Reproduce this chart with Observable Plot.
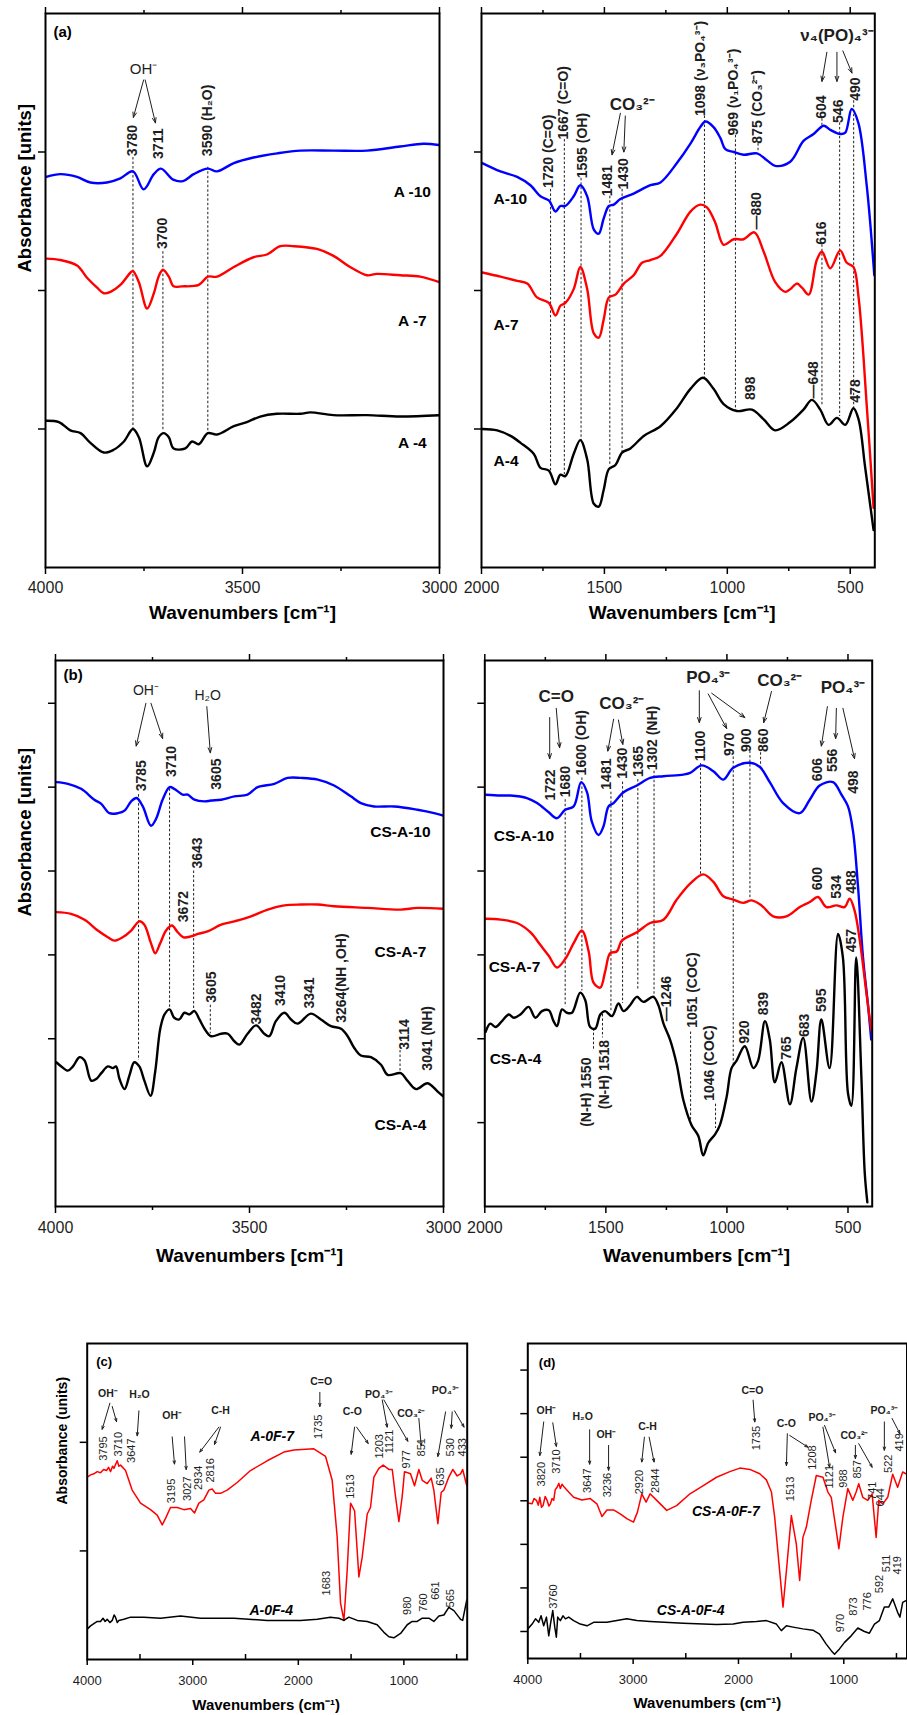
<!DOCTYPE html>
<html><head><meta charset="utf-8">
<script src="https://cdn.jsdelivr.net/npm/d3@7"></script>
<script src="https://cdn.jsdelivr.net/npm/@observablehq/plot@0.6"></script>
<style>
html,body{margin:0;padding:0;background:#fff}
#root{position:relative;width:907px;height:1715px;overflow:hidden;background:#fff}
.p{position:absolute}
.p svg{display:block}
</style></head><body>
<div id="root"></div>
<script>
// ---------- Panel (a) : A-10, A-7, A-4 ----------
const A10_L = [[3998,2.82],[3962,2.84],[3920,2.82],[3886,2.78],[3844,2.78],[3810,2.81],[3778,2.86],[3751,2.73],[3725,2.84],[3707,2.88],[3676,2.80],[3651,2.79],[3624,2.84],[3588,2.88],[3565,2.86],[3522,2.92],[3472,2.96],[3412,2.99],[3353,3.01],[3269,3.01],[3184,3.01],[3100,3.04],[3041,3.06],[3000,3.05]];
const A7_L = [[3998,2.23],[3962,2.22],[3920,2.18],[3894,2.09],[3869,2.02],[3852,1.98],[3835,1.99],[3810,2.04],[3784,2.13],[3778,2.14],[3763,2.06],[3742,1.87],[3725,1.98],[3713,2.10],[3702,2.15],[3687,2.10],[3675,2.03],[3653,2.03],[3611,2.04],[3588,2.10],[3565,2.10],[3522,2.17],[3472,2.24],[3438,2.26],[3404,2.32],[3370,2.32],[3311,2.30],[3269,2.25],[3227,2.17],[3184,2.11],[3159,2.12],[3100,2.11],[3049,2.10],[3000,2.06]];
const A4_L = [[3998,1.06],[3966,1.05],[3937,0.99],[3911,0.97],[3886,0.90],[3852,0.83],[3827,0.85],[3801,0.91],[3778,1.00],[3763,0.94],[3742,0.73],[3725,0.83],[3713,0.94],[3700,0.97],[3687,0.94],[3675,0.86],[3645,0.86],[3628,0.91],[3611,0.89],[3588,0.97],[3565,0.96],[3522,1.02],[3489,1.05],[3455,1.09],[3413,1.11],[3353,1.11],[3328,1.12],[3269,1.10],[3184,1.10],[3100,1.09],[3000,1.10]];
const A10_R = [[1997,2.92],[1923,2.86],[1855,2.82],[1801,2.76],[1760,2.68],[1726,2.65],[1699,2.57],[1679,2.61],[1659,2.61],[1625,2.68],[1598,2.76],[1570,2.68],[1543,2.44],[1523,2.41],[1503,2.52],[1482,2.61],[1462,2.62],[1435,2.66],[1381,2.70],[1313,2.76],[1272,2.78],[1205,2.92],[1150,3.06],[1110,3.18],[1089,3.22],[1056,3.18],[1028,3.10],[1008,3.02],[974,3.00],[934,2.98],[879,2.99],[839,2.94],[805,2.90],[744,2.93],[690,3.08],[649,3.13],[608,3.19],[581,3.16],[541,3.13],[520,3.14],[494,3.31],[467,3.21],[433,2.76],[402,2.11]];
const A7_R = [[1997,2.13],[1923,2.10],[1855,2.07],[1814,2.05],[1774,1.95],[1726,1.91],[1699,1.82],[1679,1.89],[1659,1.91],[1625,2.01],[1598,2.17],[1570,2.01],[1543,1.69],[1523,1.66],[1503,1.79],[1482,1.95],[1455,1.97],[1421,2.05],[1381,2.11],[1347,2.20],[1313,2.22],[1272,2.25],[1205,2.41],[1150,2.57],[1110,2.62],[1083,2.60],[1049,2.49],[1015,2.33],[974,2.37],[934,2.37],[890,2.42],[852,2.28],[805,2.06],[764,1.99],[744,2.01],[717,2.05],[696,2.02],[669,1.97],[636,2.22],[615,2.28],[581,2.16],[541,2.29],[514,2.20],[487,2.17],[466,1.95],[432,1.15],[405,0.43]];
const A4_R = [[1997,1.00],[1936,0.99],[1882,0.95],[1841,0.90],[1787,0.82],[1760,0.72],[1726,0.70],[1699,0.60],[1679,0.67],[1659,0.66],[1625,0.82],[1598,0.92],[1570,0.78],[1543,0.46],[1523,0.44],[1503,0.56],[1482,0.71],[1455,0.74],[1428,0.83],[1394,0.86],[1340,0.95],[1272,1.02],[1205,1.15],[1150,1.29],[1099,1.37],[1056,1.29],[1015,1.18],[961,1.13],[900,1.14],[852,1.07],[805,0.99],[744,1.05],[690,1.14],[656,1.21],[622,1.14],[588,1.03],[554,1.08],[520,1.03],[487,1.15],[466,1.07],[439,0.72],[405,0.27]];

const aL_peaks = [{t:"3780",x:3778,y:2.97},{t:"3711",x:3713,y:2.95},{t:"3590 (H₂O)",x:3588,y:2.97},{t:"3700",x:3702,y:2.30}];
const aL_dash = [{x:3778,y1:2.96,y2:0.99},{x:3702,y1:2.28,y2:0.98},{x:3588,y1:2.89,y2:0.98}];
const aL_arrows = [{x1:3751,y1:3.52,x2:3777,y2:3.25},{x1:3747,y1:3.52,x2:3721,y2:3.21}];
const aL_groups = [{t:"OH⁻",x:3751,y:3.60}];
const aL_names = [{t:"A -10",x:3069,y:2.71},{t:"A -7",x:3069,y:1.78},{t:"A -4",x:3069,y:0.90}];

const aR_peaks = [{t:"1720 (C=O)",x:1727,y:2.74},{t:"1667 (C=O)",x:1665,y:3.09},{t:"1595 (OH)",x:1591,y:2.81},{t:"1481",x:1489,y:2.68},{t:"1430",x:1421,y:2.73},{t:"1098 (ν₃PO₄³⁻)",x:1110,y:3.26},{t:"969 (ν₁PO₄³⁻)",x:974,y:3.12},{t:"875 (CO₃²⁻)",x:879,y:3.06},{t:"604",x:615,y:3.24},{t:"546",x:547,y:3.21},{t:"490",x:480,y:3.37},{t:"—880",x:882,y:2.44},{t:"616",x:615,y:2.33},{t:"898",x:904,y:1.21},{t:"—648",x:649,y:1.22},{t:"478",x:480,y:1.19}];
const aR_dash = [{x:1719,y1:2.73,y2:0.68},{x:1663,y1:3.09,y2:0.67},{x:1595,y1:2.81,y2:0.91},{x:1478,y1:2.68,y2:0.74},{x:1428,y1:2.73,y2:0.83},{x:1093,y1:3.26,y2:1.37},{x:967,y1:3.12,y2:1.13},{x:875,y1:3.06,y2:3.00},{x:543,y1:3.21,y2:1.09},{x:486,y1:3.37,y2:1.15},{x:615,y1:2.33,y2:1.17},{x:615,y1:3.24,y2:3.18}];
const aR_arrows = [{x1:1435,y1:3.28,x2:1469,y2:2.98},{x1:1415,y1:3.26,x2:1421,y2:3.00},{x1:595,y1:3.72,x2:615,y2:3.51},{x1:554,y1:3.72,x2:554,y2:3.51},{x1:530,y1:3.73,x2:493,y2:3.57}];
const aR_groups = [{t:"CO₃²⁻",x:1387,y:3.34},{t:"ν₄(PO)₄³⁻",x:554,y:3.84}];
const aR_names = [{t:"A-10",x:1951,y:2.66},{t:"A-7",x:1951,y:1.75},{t:"A-4",x:1951,y:0.77}];

// ---------- Panel (b) : CS-A-10, CS-A-7, CS-A-4 ----------
const CSA10_L = [[3998,5.06],[3968,5.04],[3934,4.98],[3900,4.85],[3882,4.80],[3861,4.69],[3839,4.69],[3822,4.72],[3805,4.83],[3791,4.87],[3775,4.77],[3754,4.54],[3741,4.62],[3724,4.85],[3706,5.00],[3694,4.98],[3672,4.91],[3659,4.91],[3642,4.85],[3616,4.83],[3599,4.84],[3573,4.85],[3539,4.89],[3505,4.91],[3479,5.00],[3436,5.04],[3402,5.11],[3367,5.11],[3324,5.09],[3282,5.02],[3239,4.89],[3213,4.81],[3179,4.77],[3127,4.77],[3067,4.73],[3024,4.69],[3000,4.66]];
const CSA7_L = [[3998,3.51],[3960,3.49],[3925,3.42],[3891,3.29],[3865,3.21],[3848,3.17],[3827,3.21],[3805,3.29],[3784,3.40],[3771,3.36],[3754,3.14],[3743,3.02],[3730,3.14],[3715,3.29],[3700,3.35],[3685,3.27],[3670,3.21],[3651,3.22],[3633,3.25],[3608,3.28],[3573,3.36],[3539,3.40],[3496,3.46],[3453,3.54],[3410,3.59],[3367,3.60],[3324,3.60],[3282,3.58],[3196,3.56],[3110,3.54],[3067,3.56],[3000,3.55]];
const CSA4_L = [[3998,1.72],[3985,1.67],[3968,1.62],[3955,1.67],[3938,1.78],[3925,1.74],[3908,1.50],[3895,1.52],[3882,1.59],[3865,1.67],[3852,1.65],[3844,1.67],[3835,1.52],[3822,1.40],[3809,1.57],[3797,1.72],[3784,1.67],[3771,1.50],[3755,1.32],[3743,1.61],[3730,2.12],[3719,2.29],[3706,2.35],[3694,2.25],[3681,2.23],[3668,2.31],[3655,2.29],[3642,2.33],[3629,2.23],[3616,2.12],[3599,2.03],[3573,2.06],[3556,2.06],[3539,1.97],[3526,1.93],[3505,2.06],[3483,2.16],[3462,2.06],[3449,2.03],[3432,2.21],[3410,2.31],[3393,2.23],[3376,2.18],[3342,2.30],[3316,2.23],[3290,2.15],[3264,2.12],[3247,2.03],[3230,1.89],[3213,1.80],[3187,1.78],[3161,1.69],[3144,1.57],[3110,1.59],[3093,1.50],[3071,1.40],[3041,1.47],[3015,1.37],[3000,1.31]];
const CSA10_R = [[1997,4.91],[1935,4.90],[1894,4.90],[1826,4.87],[1784,4.81],[1736,4.70],[1702,4.63],[1668,4.73],[1633,4.77],[1602,5.06],[1578,4.94],[1558,4.59],[1530,4.43],[1510,4.53],[1489,4.77],[1468,4.81],[1427,4.94],[1372,5.02],[1317,5.11],[1262,5.13],[1180,5.15],[1152,5.17],[1104,5.26],[1056,5.19],[1015,5.09],[974,5.23],[905,5.29],[864,5.24],[823,5.06],[768,4.81],[699,4.69],[658,4.85],[617,5.02],[562,5.06],[527,4.91],[500,4.77],[479,4.47],[459,3.83],[438,2.97],[418,2.42],[404,1.99]];
const CSA7_R = [[1997,3.43],[1935,3.42],[1867,3.38],[1812,3.27],[1771,3.12],[1736,2.99],[1702,2.85],[1668,2.95],[1633,3.14],[1599,3.29],[1571,3.04],[1551,2.67],[1523,2.61],[1503,2.80],[1482,3.02],[1455,3.04],[1434,3.17],[1372,3.27],[1317,3.38],[1262,3.42],[1207,3.66],[1152,3.85],[1098,3.96],[1056,3.87],[1015,3.70],[974,3.66],[933,3.62],[898,3.65],[857,3.59],[809,3.46],[754,3.46],[699,3.57],[658,3.63],[624,3.69],[589,3.57],[548,3.59],[514,3.57],[493,3.67],[473,3.53],[452,3.19],[424,2.55],[404,2.10]];
const CSA4_R = [[1997,2.08],[1977,2.18],[1956,2.14],[1929,2.21],[1901,2.29],[1880,2.25],[1853,2.29],[1819,2.38],[1791,2.25],[1764,2.33],[1736,2.34],[1716,2.21],[1702,2.15],[1681,2.35],[1661,2.31],[1640,2.31],[1606,2.55],[1585,2.46],[1565,2.14],[1544,2.12],[1523,2.29],[1503,2.33],[1475,2.27],[1448,2.42],[1427,2.33],[1400,2.40],[1372,2.50],[1345,2.44],[1304,2.50],[1283,2.40],[1262,2.18],[1235,1.99],[1207,1.69],[1180,1.27],[1146,0.97],[1118,0.84],[1098,0.61],[1077,0.76],[1049,0.86],[1029,0.97],[1001,1.31],[981,1.65],[960,1.74],[926,1.91],[891,1.65],[871,1.74],[843,2.21],[823,1.99],[802,1.48],[775,1.72],[740,1.22],[713,1.65],[685,2.01],[651,1.25],[630,1.61],[610,2.23],[576,1.65],[541,3.25],[521,2.97],[500,1.35],[486,1.20],[466,2.97],[445,1.57],[431,0.41],[420,0.05]];

const bL_peaks = [{t:"3785",x:3778,y:4.95},{t:"3710",x:3702,y:5.12},{t:"3605",x:3586,y:4.97},{t:"3643",x:3633,y:4.03},{t:"3672",x:3670,y:3.39},{t:"3605",x:3597,y:2.43},{t:"3482",x:3483,y:2.17},{t:"3410",x:3419,y:2.39},{t:"3341",x:3346,y:2.36},{t:"3264(NH ,OH)",x:3264,y:2.19},{t:"3114",x:3101,y:1.87},{t:"3041 (NH)",x:3041,y:1.62}];
const bL_dash = [{x:3786,y1:4.91,y2:1.74},{x:3706,y1:4.98,y2:2.35},{x:3644,y1:4.00,y2:2.33},{x:3601,y1:2.40,y2:2.06},{x:3112,y1:1.86,y2:1.59}];
const bL_arrows = [{x1:3767,y1:6.00,x2:3792,y2:5.49},{x1:3754,y1:6.00,x2:3724,y2:5.58},{x1:3610,y1:5.96,x2:3601,y2:5.41}];
const bL_groups = [{t:"OH⁻",x:3767,y:6.15},{t:"H₂O",x:3608,y:6.09}];
const bL_names = [{t:"CS-A-10",x:3111,y:4.47},{t:"CS-A-7",x:3111,y:3.04},{t:"CS-A-4",x:3111,y:0.97}];

const bR_peaks = [{t:"1722",x:1729,y:4.84},{t:"1680",x:1668,y:4.88},{t:"1600 (OH)",x:1599,y:5.14},{t:"1481",x:1496,y:4.97},{t:"1430",x:1430,y:5.10},{t:"1365",x:1365,y:5.12},{t:"1302 (NH)",x:1306,y:5.20},{t:"1100",x:1109,y:5.31},{t:"970",x:990,y:5.37},{t:"900",x:919,y:5.42},{t:"860",x:850,y:5.42},{t:"606",x:624,y:5.07},{t:"556",x:562,y:5.18},{t:"498",x:477,y:4.92},{t:"600",x:624,y:3.77},{t:"534",x:548,y:3.67},{t:"488",x:486,y:3.73},{t:"—1246",x:1249,y:2.21},{t:"1051 (COC)",x:1142,y:2.13},{t:"1046 (COC)",x:1070,y:1.26},{t:"920",x:926,y:1.94},{t:"839",x:850,y:2.28},{t:"765",x:754,y:1.75},{t:"683",x:679,y:2.02},{t:"595",x:610,y:2.32},{t:"457",x:486,y:3.03},{t:"(N-H) 1550",x:1578,y:0.95},{t:"(N-H) 1518",x:1507,y:1.16}];
const bR_dash = [{x:1668,y1:4.85,y2:2.38},{x:1599,y1:5.11,y2:2.57},{x:1479,y1:4.94,y2:2.33},{x:1431,y1:5.06,y2:2.42},{x:1368,y1:5.09,y2:2.59},{x:1301,y1:5.19,y2:2.50},{x:1109,y1:5.28,y2:3.95},{x:974,y1:5.36,y2:1.67},{x:905,y1:5.43,y2:3.66},{x:861,y1:5.41,y2:5.23},{x:1551,y1:2.12,y2:1.86},{x:1514,y1:2.29,y2:2.01},{x:1150,y1:2.08,y2:1.01},{x:1047,y1:1.22,y2:0.93}];
const bR_arrows = [{x1:1732,y1:5.83,x2:1732,y2:5.34},{x1:1705,y1:5.94,x2:1691,y2:5.47},{x1:1468,y1:5.81,x2:1492,y2:5.43},{x1:1448,y1:5.80,x2:1430,y2:5.51},{x1:1114,y1:6.15,x2:1114,y2:5.77},{x1:1077,y1:6.11,x2:1001,y2:5.70},{x1:1063,y1:6.12,x2:926,y2:5.83},{x1:816,y1:6.14,x2:848,y2:5.77},{x1:585,y1:5.96,x2:610,y2:5.49},{x1:548,y1:5.94,x2:551,y2:5.58},{x1:521,y1:5.94,x2:473,y2:5.34}];
const bR_groups = [{t:"C=O",x:1705,y:6.08},{t:"CO₃²⁻",x:1434,y:6.00},{t:"PO₄³⁻",x:1077,y:6.31},{t:"CO₃²⁻",x:782,y:6.27},{t:"PO₄³⁻",x:521,y:6.19}];
const bR_names = [{t:"CS-A-10",x:1963,y:4.42},{t:"CS-A-7",x:1984,y:2.85},{t:"CS-A-4",x:1980,y:1.76}];

// ---------- Panel (c) : A-0F-7, A-0F-4 ----------
const AOF7 = [[4000,1.68],[3968,1.70],[3937,1.71],[3905,1.73],[3874,1.72],[3845,1.75],[3817,1.74],[3798,1.77],[3779,1.73],[3760,1.78],[3747,1.76],[3716,1.83],[3700,1.78],[3684,1.79],[3637,1.74],[3574,1.56],[3495,1.44],[3400,1.38],[3337,1.33],[3289,1.24],[3258,1.30],[3211,1.40],[3147,1.40],[3084,1.38],[3021,1.39],[2983,1.35],[2942,1.44],[2895,1.47],[2847,1.56],[2816,1.57],[2784,1.53],[2737,1.53],[2674,1.56],[2579,1.63],[2453,1.74],[2295,1.83],[2137,1.91],[2042,1.93],[1853,1.94],[1742,1.87],[1679,1.65],[1632,1.13],[1600,0.52],[1568,0.36],[1537,0.82],[1505,1.44],[1467,1.37],[1426,0.76],[1395,0.94],[1347,1.34],[1316,1.40],[1284,1.68],[1237,1.76],[1196,1.79],[1142,1.75],[1110,1.75],[1079,1.50],[1047,1.27],[1016,1.50],[994,1.73],[937,1.71],[899,1.60],[858,1.75],[826,1.65],[779,1.62],[741,1.67],[716,1.56],[678,1.25],[646,1.54],[621,1.56],[574,1.68],[536,1.75],[495,1.69],[463,1.71],[443,1.75],[404,1.60]];
const AOF4 = [[4000,0.28],[3968,0.31],[3937,0.33],[3905,0.35],[3874,0.35],[3850,0.38],[3830,0.35],[3811,0.37],[3785,0.34],[3763,0.36],[3745,0.41],[3732,0.39],[3715,0.34],[3700,0.36],[3653,0.37],[3589,0.39],[3463,0.39],[3305,0.38],[3116,0.40],[2926,0.38],[2610,0.38],[2295,0.36],[1979,0.36],[1821,0.37],[1695,0.39],[1616,0.38],[1568,0.36],[1521,0.39],[1442,0.36],[1347,0.35],[1253,0.32],[1189,0.25],[1142,0.21],[1095,0.20],[1031,0.24],[968,0.32],[921,0.35],[874,0.35],[826,0.38],[763,0.38],[716,0.35],[668,0.40],[621,0.41],[574,0.48],[526,0.45],[479,0.39],[463,0.37],[443,0.36],[404,0.55]];

const c_peaks = [{t:"3795",x:3842,y:1.83},{t:"3710",x:3700,y:1.87},{t:"3647",x:3580,y:1.81},{t:"3195",x:3201,y:1.44},{t:"3027",x:3046,y:1.46},{t:"2934",x:2942,y:1.56},{t:"2816",x:2832,y:1.63},{t:"1735",x:1812,y:2.03},{t:"1513",x:1505,y:1.48},{t:"1203",x:1230,y:1.85},{t:"1121",x:1132,y:1.90},{t:"977",x:975,y:1.76},{t:"851",x:836,y:1.87},{t:"635",x:653,y:1.60},{t:"530",x:558,y:1.87},{t:"433",x:444,y:1.87},{t:"1683",x:1733,y:0.59},{t:"980",x:962,y:0.41},{t:"760",x:810,y:0.44},{t:"661",x:700,y:0.55},{t:"565",x:558,y:0.48}];
const c_groups = [{t:"OH⁻",x:3804,y:2.45},{t:"H₂O",x:3504,y:2.44},{t:"OH⁻",x:3195,y:2.25},{t:"C-H",x:2737,y:2.29},{t:"C=O",x:1783,y:2.56},{t:"C-O",x:1489,y:2.28},{t:"PO₄³⁻",x:1237,y:2.44},{t:"CO₃²⁻",x:930,y:2.26},{t:"PO₄³⁻",x:605,y:2.48}];
const c_arrows = [{x1:3785,y1:2.36,x2:3858,y2:2.12},{x1:3763,y1:2.33,x2:3722,y2:2.19},{x1:3510,y1:2.29,x2:3526,y2:2.06},{x1:3195,y1:2.05,x2:3173,y2:1.80},{x1:3078,y1:2.05,x2:3062,y2:1.75},{x1:2753,y1:2.14,x2:2933,y2:1.91},{x1:2737,y1:2.14,x2:2794,y2:1.98},{x1:1796,y1:2.46,x2:1796,y2:2.33},{x1:1467,y1:2.14,x2:1499,y2:1.89},{x1:1448,y1:2.14,x2:1338,y2:1.99},{x1:1205,y1:2.39,x2:1158,y2:2.14},{x1:1189,y1:2.39,x2:962,y2:2.01},{x1:858,y1:2.22,x2:836,y2:1.97},{x1:605,y1:2.28,x2:678,y2:1.87},{x1:542,y1:2.28,x2:551,y2:2.13},{x1:520,y1:2.29,x2:430,y2:2.14}];
const c_names = [{t:"A-0F-7",x:2247,y:2.05},{t:"A-0F-4",x:2257,y:0.45}];

// ---------- Panel (d) : CS-A-0F-7, CS-A-0F-4 ----------
const CSAOF7 = [[4000,3.95],[3959,3.93],[3940,4.05],[3918,4.01],[3900,3.90],[3886,4.08],[3870,3.85],[3855,3.89],[3835,4.10],[3817,4.01],[3800,3.88],[3785,3.93],[3770,4.05],[3754,4.01],[3740,4.25],[3722,4.31],[3705,4.40],[3691,4.28],[3675,4.38],[3659,4.33],[3612,4.20],[3565,4.08],[3486,4.02],[3407,4.05],[3344,3.93],[3296,3.64],[3249,3.79],[3186,3.79],[3123,3.70],[3060,3.59],[2997,3.51],[2959,3.74],[2918,4.16],[2877,3.97],[2839,4.16],[2776,4.01],[2681,3.78],[2587,3.89],[2460,4.16],[2334,4.35],[2208,4.54],[2082,4.67],[1987,4.75],[1892,4.72],[1798,4.62],[1735,4.48],[1687,4.20],[1656,3.62],[1624,2.78],[1577,1.56],[1539,2.55],[1498,3.66],[1451,3.01],[1419,2.17],[1388,3.16],[1356,3.39],[1309,4.01],[1261,4.58],[1198,4.54],[1151,4.20],[1119,4.08],[1072,3.32],[1047,2.90],[1009,3.62],[962,4.28],[914,4.01],[883,4.20],[858,4.39],[820,4.08],[772,4.01],[731,4.16],[693,3.16],[668,4.01],[630,3.93],[583,4.08],[536,4.61],[489,4.31],[441,4.66],[410,4.62]];
const CSAOF4 = [[4000,1.06],[3959,1.17],[3927,1.29],[3896,1.21],[3874,1.36],[3849,1.13],[3823,1.33],[3801,0.90],[3785,1.17],[3763,1.48],[3744,1.10],[3729,0.87],[3716,1.33],[3691,1.25],[3666,1.36],[3643,1.29],[3612,1.33],[3565,1.25],[3502,1.17],[3438,1.13],[3375,1.21],[3249,1.21],[3154,1.25],[3060,1.29],[2965,1.25],[2839,1.23],[2524,1.19],[2208,1.16],[2050,1.17],[1956,1.21],[1829,1.23],[1735,1.25],[1640,1.17],[1593,1.02],[1545,1.13],[1482,1.10],[1388,1.06],[1293,1.03],[1230,0.94],[1167,0.71],[1119,0.56],[1088,0.48],[1041,0.60],[993,0.75],[930,0.90],[867,1.08],[804,1.00],[757,0.96],[709,1.17],[662,1.25],[615,1.56],[574,1.56],[536,1.75],[489,1.44],[467,1.33],[441,1.67],[410,1.71]];

const d_peaks = [{t:"3820",x:3874,y:4.33},{t:"3710",x:3729,y:4.62},{t:"3647",x:3438,y:4.18},{t:"3236",x:3243,y:4.08},{t:"2920",x:2943,y:4.15},{t:"2844",x:2785,y:4.18},{t:"1735",x:1829,y:5.16},{t:"1513",x:1508,y:3.99},{t:"1208",x:1293,y:4.71},{t:"1121",x:1135,y:4.28},{t:"988",x:1000,y:4.30},{t:"857",x:867,y:4.51},{t:"741",x:731,y:4.02},{t:"644",x:656,y:3.87},{t:"522",x:574,y:4.64},{t:"419",x:473,y:5.13},{t:"3760",x:3760,y:1.52},{t:"970",x:1034,y:0.98},{t:"873",x:908,y:1.36},{t:"776",x:772,y:1.48},{t:"592",x:662,y:1.88},{t:"511",x:599,y:2.36},{t:"419",x:489,y:2.31}];
const d_groups = [{t:"OH⁻",x:3823,y:6.08},{t:"H₂O",x:3479,y:5.94},{t:"OH⁻",x:3255,y:5.52},{t:"C-H",x:2864,y:5.71},{t:"C=O",x:1867,y:6.52},{t:"C-O",x:1545,y:5.77},{t:"PO₄³⁻",x:1205,y:5.92},{t:"CO₃²⁻",x:899,y:5.50},{t:"PO₄³⁻",x:615,y:6.08}];
const d_arrows = [{x1:3849,y1:5.81,x2:3886,y2:5.04},{x1:3763,y1:5.79,x2:3729,y2:5.25},{x1:3413,y1:5.63,x2:3413,y2:4.84},{x1:3233,y1:5.27,x2:3233,y2:4.70},{x1:2893,y1:5.46,x2:2918,y2:4.89},{x1:2848,y1:5.46,x2:2801,y2:4.89},{x1:1861,y1:6.31,x2:1845,y2:5.81},{x1:1536,y1:5.54,x2:1545,y2:4.81},{x1:1514,y1:5.50,x2:1340,y2:5.23},{x1:1198,y1:5.69,x2:1135,y2:4.77},{x1:1183,y1:5.73,x2:1078,y2:5.10},{x1:890,y1:5.27,x2:890,y2:4.97},{x1:858,y1:5.31,x2:731,y2:4.77},{x1:615,y1:5.81,x2:615,y2:5.16},{x1:542,y1:5.89,x2:467,y2:5.54}];
const d_names = [{t:"CS-A-0F-7",x:2120,y:3.76},{t:"CS-A-0F-4",x:2454,y:1.48}];

// ---------- axis tick values ----------
const ticksHighX = [4000,3500,3000], ticksHighMinor = [3750,3250];
const ticksLowX = [2000,1500,1000,500], ticksLowMinor = [1750,1250,750];
const ticksFullX = [4000,3000,2000,1000], ticksFullMinor = [3500,2500,1500,500];

// ---------- rendering ----------
const FONT = '"Liberation Sans", Arial, Helvetica, sans-serif';
const BLUE = "#0000ff", RED = "#ff0000", BLACK = "#000000", INK = "#1e1e1e";
const root = document.getElementById("root");

function panel(c) {
  const m = [];
  m.push(Plot.axisX({anchor:"bottom", ticks:c.xMajor, tickSize:c.majorLen, tickPadding:c.tickPad, tickFormat:"d", fontSize:c.tickFont, fill:INK, strokeWidth:1.5, label:null}));
  m.push(Plot.axisX({anchor:"bottom", ticks:c.xMinor, tickSize:c.minorLen, tickFormat:()=>"", strokeWidth:1.5, label:null}));
  if (c.topTicks) {
    m.push(Plot.axisX({anchor:"top", ticks:c.xMajor, tickSize:c.majorLen, tickFormat:()=>"", strokeWidth:1.5, label:null}));
    m.push(Plot.axisX({anchor:"top", ticks:c.xMinor, tickSize:c.minorLen, tickFormat:()=>"", strokeWidth:1.5, label:null}));
  }
  m.push(Plot.axisY({anchor:"left", ticks:c.yTicks, tickSize:7, tickFormat:()=>"", strokeWidth:1.5, label:null}));
  if (c.dash) m.push(Plot.ruleX(c.dash, {x:"x", y1:"y1", y2:"y2", stroke:INK, strokeWidth:1, strokeDasharray:"2.5,2"}));
  for (const s of c.series) m.push(Plot.line(s.data, {x:d=>d[0], y:d=>d[1], stroke:s.color, strokeWidth:c.lineWidth, curve:s.curve || "catmull-rom", clip:true}));
  m.push(Plot.frame({stroke:"#000", strokeWidth:2}));
  if (c.arrows) m.push(Plot.arrow(c.arrows, {x1:"x1", y1:"y1", x2:"x2", y2:"y2", stroke:INK, strokeWidth:1, headLength:c.headLen || 7, headAngle:40}));
  if (c.peaks) m.push(Plot.text(c.peaks, {x:"x", y:"y", text:"t", rotate:-90, textAnchor:"start", fontSize:c.peakFont, fontWeight:c.peakWeight, fill:INK}));
  if (c.groups) m.push(Plot.text(c.groups, {x:"x", y:"y", text:"t", fontSize:c.groupFont, fontWeight:c.groupWeight, fill:INK}));
  if (c.names) m.push(Plot.text(c.names, {x:"x", y:"y", text:"t", textAnchor:c.nameAnchor, fontSize:c.nameFont, fontWeight:"bold", fontStyle:c.nameStyle || "normal", fill:"#000"}));
  if (c.letter) m.push(Plot.text([c.letter], {frameAnchor:"top-left", text:d=>d, textAnchor:"start", lineAnchor:"middle", dx:c.letterDx, dy:c.letterDy, fontSize:c.letterFont, fontWeight:"bold", fill:"#000"}));
  if (c.xTitle) m.push(Plot.text([c.xTitle], {frameAnchor:"bottom", text:d=>d, lineAnchor:"middle", dx:c.xTitleDx || 0, dy:c.xTitleDy, fontSize:c.titleFont, fontWeight:"bold", fill:"#000"}));
  if (c.yTitle) m.push(Plot.text([c.yTitle], {frameAnchor:"left", text:d=>d, rotate:-90, lineAnchor:"middle", dx:c.yTitleDx, dy:c.yTitleDy || 0, fontSize:c.yTitleFont, fontWeight:"bold", fill:"#000"}));

  const svg = Plot.plot({
    width:c.w, height:c.h,
    marginLeft:c.ml, marginTop:c.mt, marginRight:c.mr, marginBottom:c.mb,
    x:{domain:c.xd, label:null},
    y:{domain:c.yd, label:null},
    style:{fontFamily:FONT, background:"transparent", overflow:"visible", color:"#000"},
    marks:m
  });
  const div = document.createElement("div");
  div.className = "p";
  div.style.left = c.left + "px"; div.style.top = c.top + "px"; div.style.width = c.w + "px";
  div.appendChild(svg);
  root.appendChild(div);
}

const bigCommon = {majorLen:7, minorLen:4, tickFont:16, topTicks:true, lineWidth:2.4, peakFont:14, peakWeight:"bold", nameFont:15.5, titleFont:19, yTitleFont:18.5, letterFont:15, headLen:8};

panel({...bigCommon, left:0, top:0, w:460, h:640, ml:45, mt:13, mr:21, mb:73, xd:[4000,3000], yd:[0,4], yTicks:[1,2,3],
  xMajor:ticksHighX, xMinor:ticksHighMinor, tickPad:7.5,
  series:[{data:A10_L,color:BLUE},{data:A7_L,color:RED},{data:A4_L,color:BLACK}],
  dash:aL_dash, arrows:aL_arrows, peaks:aL_peaks, groups:aL_groups, groupFont:15, groupWeight:"normal",
  names:aL_names, nameAnchor:"middle", letter:"(a)", letterDx:8, letterDy:19,
  xTitle:"Wavenumbers [cm⁻¹]", xTitleDy:45, yTitle:"Absorbance [units]", yTitleDx:-20, yTitleDy:-18});
panel({...bigCommon, left:460, top:0, w:447, h:640, ml:21, mt:13, mr:32.7, mb:73, xd:[2000,400], yd:[0,4], yTicks:[1,2,3],
  xMajor:ticksLowX, xMinor:ticksLowMinor, tickPad:7.5,
  series:[{data:A10_R,color:BLUE},{data:A7_R,color:RED},{data:A4_R,color:BLACK}],
  dash:aR_dash, arrows:aR_arrows, peaks:aR_peaks, groups:aR_groups, groupFont:17, groupWeight:"bold",
  names:aR_names, nameAnchor:"start",
  xTitle:"Wavenumbers [cm⁻¹]", xTitleDy:45, xTitleDx:4});
panel({...bigCommon, left:0, top:640, w:460, h:640, ml:55, mt:20, mr:17, mb:74, xd:[4000,3000], yd:[0,6.51], yTicks:[1,2,3,4,5,6],
  xMajor:ticksHighX, xMinor:ticksHighMinor, tickPad:8,
  series:[{data:CSA10_L,color:BLUE},{data:CSA7_L,color:RED},{data:CSA4_L,color:BLACK}],
  dash:bL_dash, arrows:bL_arrows, peaks:bL_peaks, groups:bL_groups, groupFont:14, groupWeight:"normal",
  names:bL_names, nameAnchor:"middle", letter:"(b)", letterDx:8, letterDy:15,
  xTitle:"Wavenumbers [cm⁻¹]", xTitleDy:49, yTitle:"Absorbance [units]", yTitleDx:-30, yTitleDy:-17});
panel({...bigCommon, left:460, top:640, w:447, h:640, ml:24.3, mt:20, mr:35.3, mb:74, xd:[2000,400], yd:[0,6.51], yTicks:[1,2,3,4,5,6],
  xMajor:ticksLowX, xMinor:ticksLowMinor, tickPad:8,
  series:[{data:CSA10_R,color:BLUE},{data:CSA7_R,color:RED},{data:CSA4_R,color:BLACK}],
  dash:bR_dash, arrows:bR_arrows, peaks:bR_peaks, groups:bR_groups, groupFont:17, groupWeight:"bold",
  names:bR_names, nameAnchor:"start",
  xTitle:"Wavenumbers [cm⁻¹]", xTitleDy:49, xTitleDx:18});

const smallCommon = {majorLen:6, minorLen:-5, tickFont:13, topTicks:false, lineWidth:1.5, peakFont:11, peakWeight:"normal", groupFont:10.5, groupWeight:"bold", nameFont:14, nameStyle:"italic", nameAnchor:"middle", titleFont:15, yTitleFont:14, letterFont:13, headLen:5, tickPad:10.5};
panel({...smallCommon, left:0, top:1280, w:470, h:435, ml:86.7, mt:63, mr:3.3, mb:56, xd:[4000,400], yd:[0,2.91], yTicks:[1,2],
  xMajor:ticksFullX, xMinor:ticksFullMinor,
  series:[{data:AOF7,color:RED,curve:"linear"},{data:AOF4,color:BLACK,curve:"linear"}],
  arrows:c_arrows, peaks:c_peaks, groups:c_groups, names:c_names, letter:"(c)", letterDx:9, letterDy:18,
  xTitle:"Wavenumbers (cm⁻¹)", xTitleDy:46, xTitleDx:-11, yTitle:"Absorbance (units)", yTitleDx:-25, yTitleDy:3});
panel({...smallCommon, left:470, top:1280, w:437, h:435, ml:57.3, mt:63, mr:0.5, mb:57, xd:[4000,400], yd:[0.38,7.61], yTicks:[1,2,3,4,5,6,7],
  xMajor:ticksFullX, xMinor:ticksFullMinor,
  series:[{data:CSAOF7,color:RED,curve:"linear"},{data:CSAOF4,color:BLACK,curve:"linear"}],
  arrows:d_arrows, peaks:d_peaks, groups:d_groups, names:d_names, letter:"(d)", letterDx:11, letterDy:19,
  xTitle:"Wavenumbers (cm⁻¹)", xTitleDy:45, xTitleDx:-10});
</script>
</body></html>
